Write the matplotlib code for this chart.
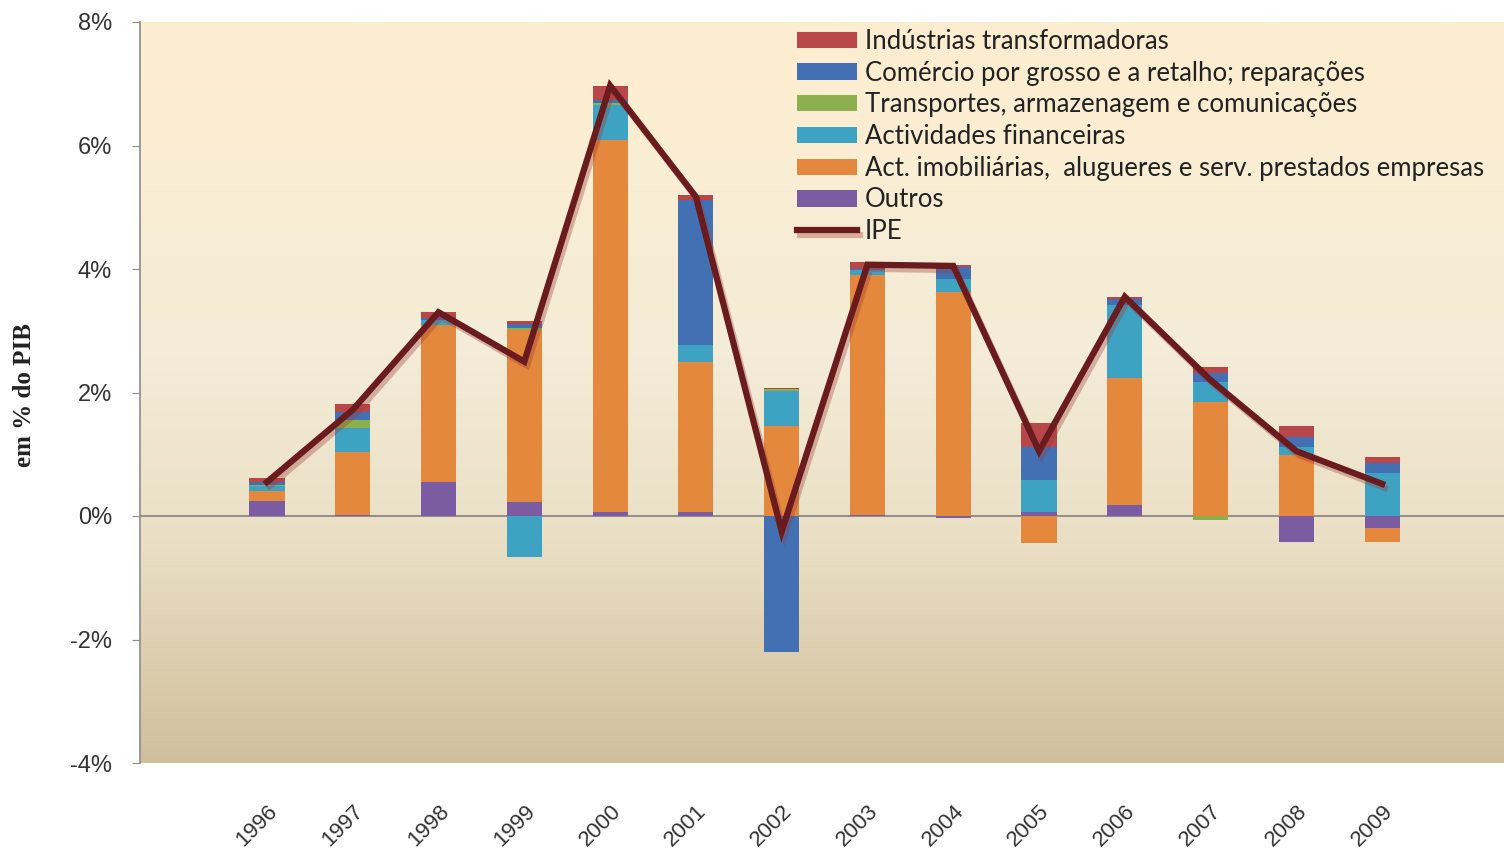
import numpy as np
import matplotlib
matplotlib.use('Agg')
import matplotlib.pyplot as plt
import matplotlib.patheffects as pe
from matplotlib.colors import LinearSegmentedColormap

# contributions to IPE, in % of PIB
anos = ['1996', '1997', '1998', '1999', '2000', '2001', '2002',
        '2003', '2004', '2005', '2006', '2007', '2008', '2009']

outros = [0.25, 0.02, 0.55, 0.23, 0.07, 0.07, 0.00, 0.02, -0.04, 0.06, 0.18, 0.00, -0.42, -0.20]
imobiliarias = [0.16, 1.02, 2.54, 2.78, 6.02, 2.43, 1.45, 3.88, 3.62, -0.44, 2.05, 1.85, 0.99, -0.22]
financeiras = [0.08, 0.39, 0.08, -0.67, 0.57, 0.27, 0.58, 0.08, 0.22, 0.52, 1.18, 0.32, 0.13, 0.69]
transportes = [0.02, 0.12, 0.00, 0.04, 0.03, 0.00, 0.02, 0.00, 0.00, 0.00, 0.00, -0.06, 0.00, 0.00]
comercio = [0.04, 0.14, 0.04, 0.06, 0.05, 2.35, -2.21, 0.02, 0.20, 0.54, 0.10, 0.14, 0.16, 0.17]
industrias = [0.07, 0.13, 0.10, 0.05, 0.22, 0.08, 0.02, 0.11, 0.02, 0.39, 0.03, 0.11, 0.18, 0.10]
ipe = [0.55, 1.72, 3.30, 2.50, 6.97, 5.17, -0.25, 4.07, 4.05, 1.05, 3.55, 2.20, 1.05, 0.52]

series = [
    ('Outros', outros, '#7B5BA1'),
    ('Act. imobiliárias,  alugueres e serv. prestados empresas', imobiliarias, '#E3883C'),
    ('Actividades financeiras', financeiras, '#3EA3C2'),
    ('Transportes, armazenagem e comunicações', transportes, '#8DB04E'),
    ('Comércio por grosso e a retalho; reparações', comercio, '#4270B3'),
    ('Indústrias transformadoras', industrias, '#B8474A'),
]

fig = plt.figure(figsize=(15.04, 8.48), dpi=100)
ax = fig.add_axes([140 / 1504, 1 - 763 / 848, 1364 / 1504, 741 / 848])

x = np.arange(len(anos))
ax.set_xlim(-1.48, 14.42)
ax.set_ylim(-4, 8)

# gradient background of the plot area
fundo = LinearSegmentedColormap.from_list('fundo', [
    (0.0, '#D0BF9B'), (0.3, '#EADFC5'), (0.55, '#F4ECD8'), (1.0, '#FEEED0')])
grad = np.linspace(0, 1, 256).reshape(-1, 1)
ax.imshow(grad, cmap=fundo, aspect='auto', origin='lower',
          extent=[-1.48, 14.42, -4, 8], zorder=0)

pos_base = np.zeros(len(anos))
neg_base = np.zeros(len(anos))
handles = {}
for nome, valores, cor in series:
    v = np.array(valores)
    base = np.where(v >= 0, pos_base, neg_base)
    b = ax.bar(x, v, width=0.41, bottom=base, color=cor, zorder=2, label=nome)
    handles[nome] = b
    pos_base = pos_base + np.where(v > 0, v, 0)
    neg_base = neg_base + np.where(v < 0, v, 0)

linha, = ax.plot(x, ipe, color='#6A1B1D', lw=4.5, zorder=4, label='IPE',
                 solid_joinstyle='miter',
                 path_effects=[pe.SimpleLineShadow(offset=(2, -3), shadow_color='#9A3A36', alpha=0.35),
                               pe.Normal()])

ax.axhline(0, color='#808080', lw=1.2, zorder=1)

for s in ['top', 'right', 'bottom']:
    ax.spines[s].set_visible(False)
ax.spines['left'].set_color('#8C8C8C')
ax.spines['left'].set_linewidth(1.2)

ax.set_yticks(np.arange(-4, 9, 2))
ax.set_yticklabels(['%d%%' % t for t in range(-4, 9, 2)], fontsize=17,
                   family='Liberation Sans', color='#333333')
ax.tick_params(axis='y', direction='out', length=6, color='#8C8C8C', pad=14)

ax.set_xticks(x)
ax.set_xticklabels(anos, rotation=45, ha='right', va='top', rotation_mode='anchor',
                   fontsize=16, family='Liberation Sans', color='#333333')
ax.tick_params(axis='x', length=0, pad=27)

fig.text(25 / 1504, 1 - 395 / 848, 'em % do PIB', rotation=90, ha='center', va='center',
         fontsize=18, fontweight='bold', family='Liberation Serif', color='#222222')

ordem = ['Indústrias transformadoras',
         'Comércio por grosso e a retalho; reparações',
         'Transportes, armazenagem e comunicações',
         'Actividades financeiras',
         'Act. imobiliárias,  alugueres e serv. prestados empresas',
         'Outros']
leg = fig.legend([handles[n] for n in ordem] + [linha], ordem + ['IPE'],
                 loc='upper left', bbox_to_anchor=(797 / 1504, 1 - 29 / 848),
                 frameon=False, prop={'family': 'Lato', 'size': 18.5},
                 handlelength=2.33, handleheight=0.6, handletextpad=0.3,
                 labelspacing=0.26, borderpad=0, borderaxespad=0)
for t in leg.get_texts():
    t.set_color('#222222')

fig.savefig('out.png', dpi=100, facecolor='white')
